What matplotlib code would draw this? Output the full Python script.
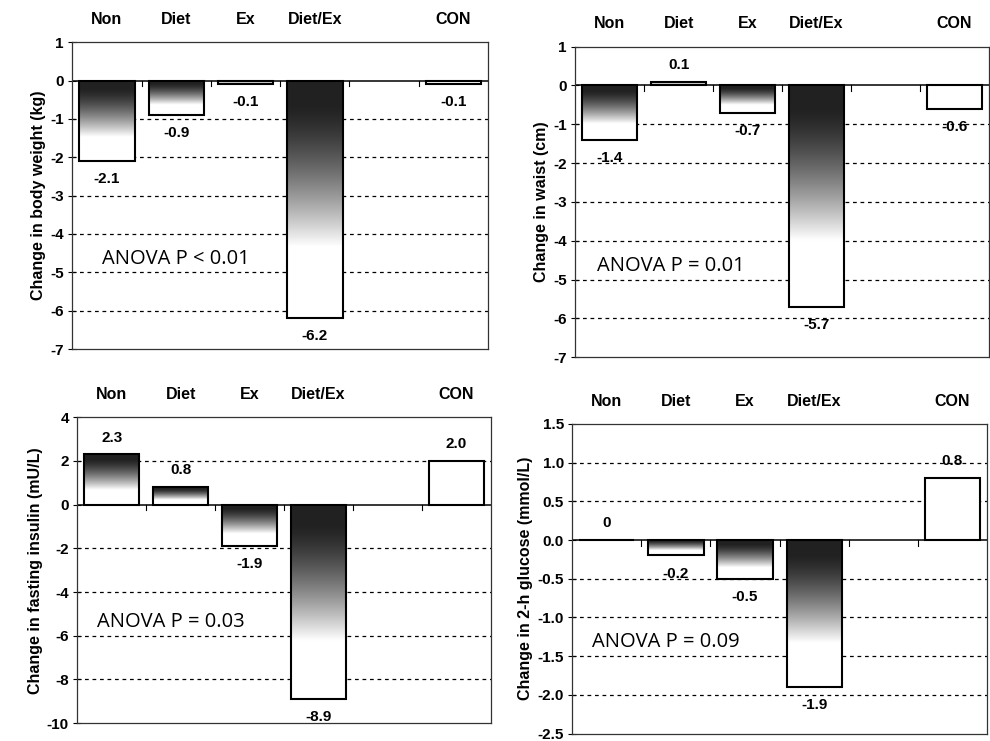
import matplotlib
matplotlib.use('Agg')
import matplotlib.pyplot as plt
import numpy as np

plt.rcParams['font.family'] = ['Liberation Sans', 'DejaVu Sans']
plt.rcParams['font.size'] = 11
plt.rcParams['font.weight'] = 'bold'

groups = ['Non', 'Diet', 'Ex', 'Diet/Ex', 'CON']
slots = [0, 1, 2, 3, 5]   # slot 4 left empty before the control group

weight = [-2.1, -0.9, -0.1, -6.2, -0.1]
weight_lbl = ['-2.1', '-0.9', '-0.1', '-6.2', '-0.1']
waist = [-1.4, 0.1, -0.7, -5.7, -0.6]
waist_lbl = ['-1.4', '0.1', '-0.7', '-5.7', '-0.6']
insulin = [2.3, 0.8, -1.9, -8.9, 2.0]
insulin_lbl = ['2.3', '0.8', '-1.9', '-8.9', '2.0']
glucose = [0.0, -0.2, -0.5, -1.9, 0.8]
glucose_lbl = ['0', '-0.2', '-0.5', '-1.9', '0.8']

panels = [
    dict(vals=weight, lbl=weight_lbl, ylab='Change in body weight (kg)',
         ylim=(-7, 1), yt=np.arange(-7, 2, 1), fmt='%d',
         note='ANOVA P < 0.01', note_xy=(-0.07, -4.65),
         rect=[0.073, 0.529, 0.420, 0.414]),
    dict(vals=waist, lbl=waist_lbl, ylab='Change in waist (cm)',
         ylim=(-7, 1), yt=np.arange(-7, 2, 1), fmt='%d',
         note='ANOVA P = 0.01', note_xy=(-0.18, -4.65),
         rect=[0.581, 0.518, 0.418, 0.419]),
    dict(vals=insulin, lbl=insulin_lbl, ylab='Change in fasting insulin (mU/L)',
         ylim=(-10, 4), yt=np.arange(-10, 5, 2), fmt='%d',
         note='ANOVA P = 0.03', note_xy=(-0.22, -5.35),
         rect=[0.078, 0.024, 0.418, 0.413]),
    dict(vals=glucose, lbl=glucose_lbl, ylab='Change in 2-h glucose (mmol/L)',
         ylim=(-2.5, 1.5), yt=np.arange(-2.5, 1.51, 0.5), fmt='%.1f',
         note='ANOVA P = 0.09', note_xy=(-0.21, -1.32),
         rect=[0.578, 0.010, 0.419, 0.418]),
]

fig = plt.figure(figsize=(9.9, 7.41), dpi=100)

# vertical shading profile: dark near the top of each bar, fading to white
t = np.linspace(0, 1, 200)
shade = 0.13 + 0.87 * np.clip((t - 0.1) / 0.6, 0, 1) ** 1.4
shade = np.dstack([shade, shade, shade]).reshape(-1, 1, 3)

for p in panels:
    ax = fig.add_axes(p['rect'])
    lo, hi = p['ylim']
    ax.set_xlim(-0.5, 5.5)
    ax.set_ylim(lo, hi)
    ax.set_yticks(p['yt'])
    ax.set_yticklabels([p['fmt'] % v for v in p['yt']], fontweight='bold',
                       fontsize=11)
    ax.tick_params(axis='y', direction='inout', length=6, width=0.8, pad=3)
    ax.set_ylabel(p['ylab'], fontweight='bold', fontsize=11.5, labelpad=3)

    ax.set_xticks(slots)
    ax.set_xticklabels(groups, fontweight='bold', fontsize=11.5)
    ax.xaxis.set_ticks_position('top')
    ax.tick_params(axis='x', length=0, pad=11)

    # dashed gridlines at inner ticks
    for v in p['yt']:
        if v != lo and v != hi and abs(v) > 1e-9:
            ax.axhline(v, color='black', lw=0.9, ls=(0, (3, 3)), zorder=0)
    ax.axhline(0, color='black', lw=1.1, zorder=1)
    tk = (hi - lo) * 0.018
    for b in np.arange(0.5, 5.0, 1.0):
        ax.plot([b, b], [0, -tk], color='black', lw=0.8, zorder=1)

    for i, (s, v, lab) in enumerate(zip(slots, p['vals'], p['lbl'])):
        bars = ax.bar(s, v, width=0.8, facecolor='white', edgecolor='black',
                      linewidth=1.5, zorder=3)
        if groups[i] != 'CON' and v != 0:
            r = bars[0]
            top = max(0, v)
            bot = min(0, v)
            im = ax.imshow(shade, extent=[s - 0.4, s + 0.4, bot, top],
                           aspect='auto', zorder=2.5, interpolation='bilinear')
            im.set_clip_path(r)
            r.set_facecolor('none')
        off = 12 if v >= 0 else -13
        ax.annotate(lab, (s, v), xytext=(0, off), textcoords='offset points',
                    ha='center', va='center', fontweight='bold', fontsize=11,
                    zorder=4)

    ax.set_xlim(-0.5, 5.5)
    ax.set_ylim(lo, hi)
    ax.text(p['note_xy'][0], p['note_xy'][1], p['note'], family='Open Sans',
            fontweight='normal', fontsize=14.5, ha='left', va='center', zorder=4)
    for sp in ax.spines.values():
        sp.set_linewidth(0.9)
        sp.set_color('#333333')

fig.savefig('out.png', dpi=100)
